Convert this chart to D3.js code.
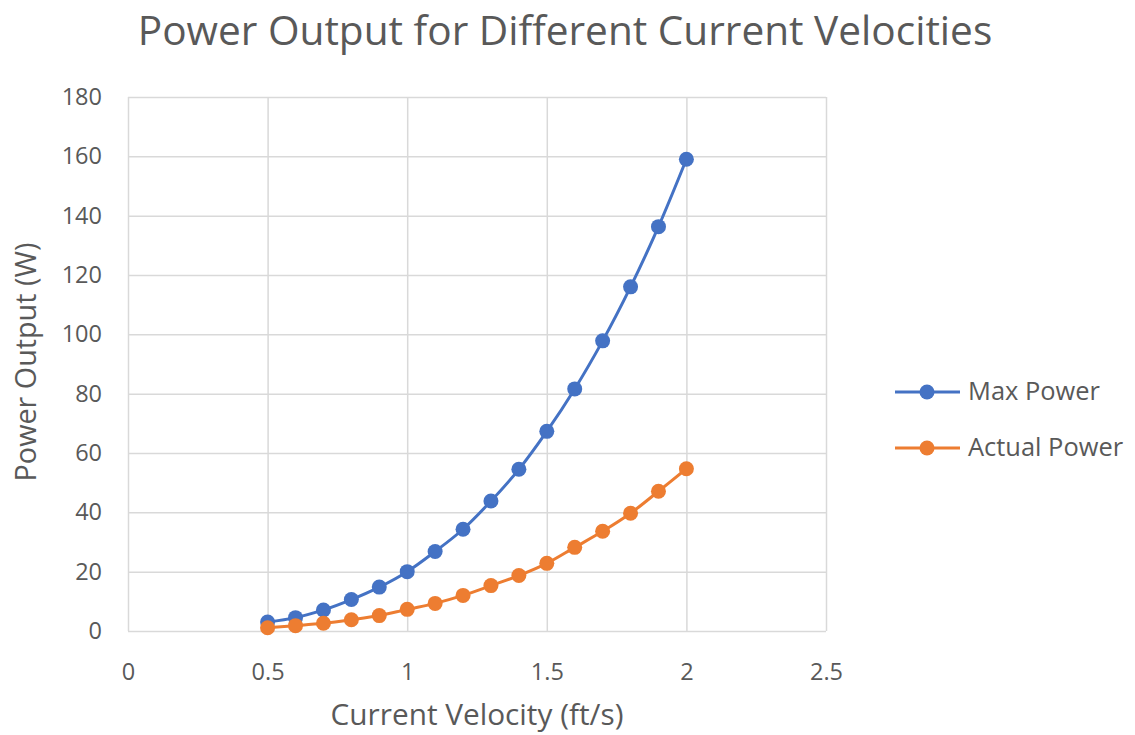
<!DOCTYPE html>
<html>
<head>
<meta charset="utf-8">
<script src="https://cdn.jsdelivr.net/npm/d3@7"></script>
<style>
  html, body { margin: 0; padding: 0; background: #ffffff; }
  svg { display: block; font-family: "Open Sans", "Noto Sans", sans-serif; }
</style>
</head>
<body>
<svg id="chart" width="1135" height="735"></svg>
<script>
// Current velocity (ft/s)
const velocities = [0.5, 0.6, 0.7, 0.8, 0.9, 1.0, 1.1, 1.2, 1.3, 1.4, 1.5, 1.6, 1.7, 1.8, 1.9, 2.0];
// Power output (W)
const maxPower    = [3.0, 4.5, 7.1, 10.6, 14.8, 20.0, 26.8, 34.3, 43.8, 54.5, 67.3, 81.6, 97.8, 116.0, 136.3, 159.0];
const actualPower = [1.1, 1.8, 2.6, 3.8, 5.2, 7.3, 9.3, 12.0, 15.3, 18.7, 22.8, 28.2, 33.6, 39.7, 47.1, 54.7];

const seriesNames  = ["Max Power", "Actual Power"];
const seriesColors = ["#4472C4", "#ED7D31"];
const xTicks = [0, 0.5, 1, 1.5, 2, 2.5];
const yTicks = [0, 20, 40, 60, 80, 100, 120, 140, 160, 180];

const titleText = "Power Output for Different Current Velocities";
const xTitle = "Current Velocity (ft/s)";
const yTitle = "Power Output (W)";

const svg = d3.select("#chart");
const textColor = "#595959";
const gridColor = "#d9d9d9";
const tickFont = 23.5;

const plot = { left: 128, right: 826, top: 97, bottom: 631 };

const x = d3.scaleLinear().domain([0, 2.5]).range([plot.left, plot.right]);
const y = d3.scaleLinear().domain([0, 180]).range([plot.bottom, plot.top]);

// Fit a text element to a target width by adjusting its font size
function fitWidth(sel, target) {
  const node = sel.node();
  const fs = parseFloat(sel.attr("font-size"));
  const w = node.getComputedTextLength();
  const size = fs * target / w;
  sel.attr("font-size", size.toFixed(2));
  return size;
}

// Title
const title = svg.append("text")
  .attr("x", 565).attr("y", 45)
  .attr("text-anchor", "middle")
  .attr("font-size", 36)
  .attr("fill", textColor)
  .text(titleText);
fitWidth(title, 855);

// Horizontal gridlines
svg.append("g")
  .attr("transform", `translate(${plot.left},0)`)
  .call(d3.axisLeft(y).tickValues(yTicks).tickSize(-(plot.right - plot.left)).tickFormat(""))
  .call(g => g.select(".domain").remove())
  .call(g => g.selectAll("line").attr("stroke", gridColor).attr("stroke-width", 1.5));

// Vertical gridlines
svg.append("g")
  .attr("transform", `translate(0,${plot.bottom})`)
  .call(d3.axisBottom(x).tickValues(xTicks).tickSize(-(plot.bottom - plot.top)).tickFormat(""))
  .call(g => g.select(".domain").remove())
  .call(g => g.selectAll("line").attr("stroke", gridColor).attr("stroke-width", 1.5));

// Y tick labels
svg.append("g")
  .attr("transform", `translate(${plot.left},0)`)
  .call(d3.axisLeft(y).tickValues(yTicks).tickSize(0).tickPadding(26).tickFormat(d3.format("d")))
  .call(g => g.select(".domain").remove())
  .call(g => g.selectAll("text")
    .attr("font-size", tickFont).attr("fill", textColor)
    .attr("font-family", "'Open Sans', 'Noto Sans', sans-serif"));

// X tick labels
svg.append("g")
  .attr("transform", `translate(0,${plot.bottom})`)
  .call(d3.axisBottom(x).tickValues(xTicks).tickSize(0).tickPadding(32).tickFormat(d => String(d)))
  .call(g => g.select(".domain").remove())
  .call(g => g.selectAll("text")
    .attr("font-size", tickFont).attr("fill", textColor)
    .attr("font-family", "'Open Sans', 'Noto Sans', sans-serif"));

// Axis titles
const xt = svg.append("text")
  .attr("x", 477).attr("y", 725)
  .attr("text-anchor", "middle")
  .attr("font-size", 22)
  .attr("fill", textColor)
  .text(xTitle);
fitWidth(xt, 293);

const yt = svg.append("text")
  .attr("transform", "translate(36,362) rotate(-90)")
  .attr("text-anchor", "middle")
  .attr("font-size", 22)
  .attr("fill", textColor)
  .text(yTitle);
fitWidth(yt, 239);

// Series
const series = [maxPower, actualPower].map((vals, i) => ({
  name: seriesNames[i],
  color: seriesColors[i],
  points: velocities.map((v, j) => ({ v, p: vals[j] }))
}));

const line = d3.line()
  .x(d => x(d.v))
  .y(d => y(d.p))
  .curve(d3.curveCatmullRom.alpha(0.5));

const sg = svg.selectAll("g.series").data(series).join("g").attr("class", "series");
sg.append("path")
  .attr("d", d => line(d.points))
  .attr("fill", "none")
  .attr("stroke", d => d.color)
  .attr("stroke-width", 3);
sg.selectAll("circle").data(d => d.points.map(p => ({ ...p, color: d.color })))
  .join("circle")
  .attr("cx", d => x(d.v))
  .attr("cy", d => y(d.p))
  .attr("r", 7.5)
  .attr("fill", d => d.color);

// Legend
const legend = svg.append("g");
let legendFont = null;
series.forEach((s, i) => {
  const ly = 392 + i * 56;
  legend.append("line")
    .attr("x1", 895).attr("x2", 960).attr("y1", ly).attr("y2", ly)
    .attr("stroke", s.color).attr("stroke-width", 3);
  legend.append("circle")
    .attr("cx", 927).attr("cy", ly).attr("r", 7.5).attr("fill", s.color);
  const t = legend.append("text")
    .attr("x", 968).attr("y", ly + 8)
    .attr("font-size", legendFont || 20)
    .attr("fill", textColor)
    .text(s.name);
  if (i === 0) legendFont = fitWidth(t, 132).toFixed(2);
});
</script>
</body>
</html>
